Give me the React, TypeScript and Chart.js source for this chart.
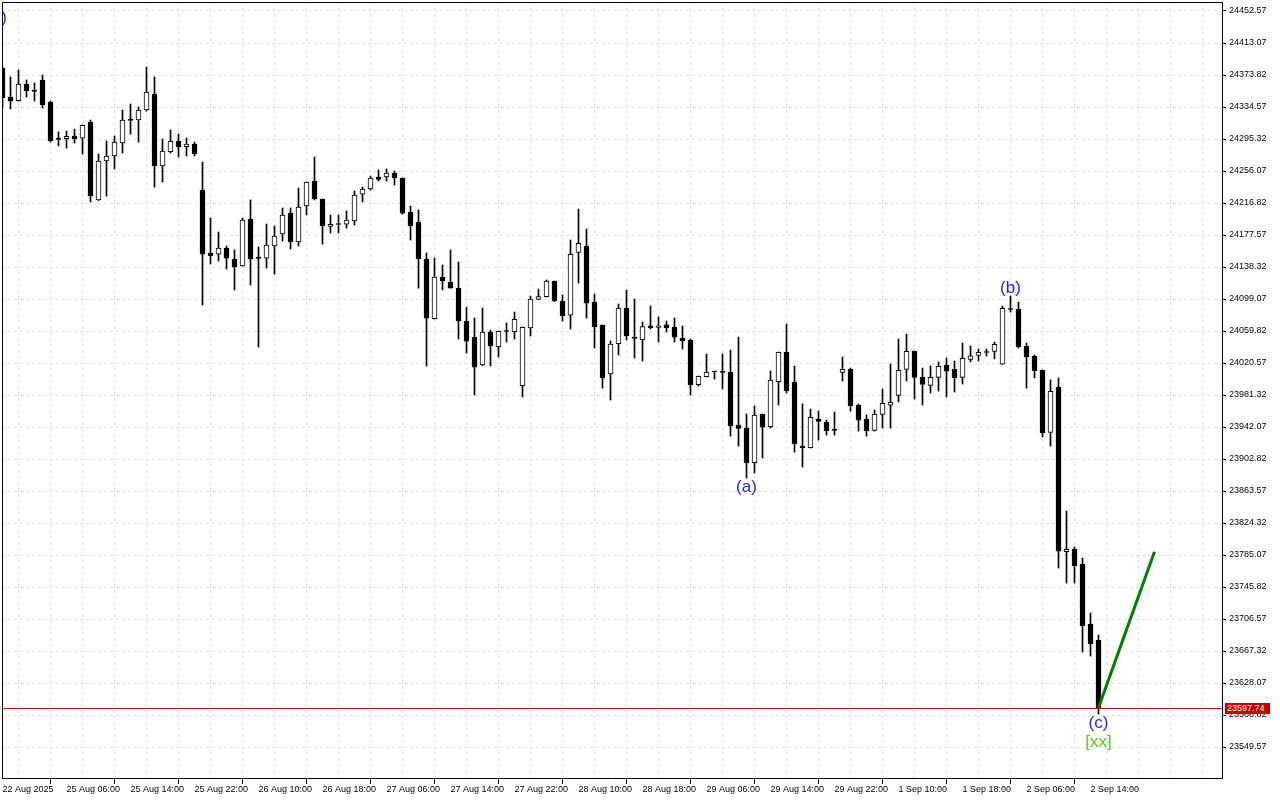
import React, { useEffect, useRef } from 'react';
import { Chart, registerables } from 'chart.js';

Chart.register(...registerables);

// ---- Data (hourly candles, index 0..137) ----
const opens = [
  24382.4, 24346.8, 24342.3, 24362.8, 24355.4, 24367.7, 24340.7, 24296.5, 24295.7, 24299.0,
  24296.2, 24316.2, 24220.5, 24268.3, 24274.5, 24290.4, 24319.8, 24318.6, 24330.9, 24350.5,
  24262.2, 24279.7, 24292.9, 24285.9, 24289.2, 24232.7, 24155.5, 24154.2, 24161.6, 24148.1,
  24139.5, 24197.2, 24150.6, 24149.3, 24164.1, 24178.8, 24204.5, 24169.0, 24213.1, 24243.8,
  24221.7, 24188.2, 24191.0, 24191.0, 24194.7, 24227.8, 24234.0, 24248.7, 24248.7, 24253.6,
  24247.5, 24205.8, 24193.5, 24148.1, 24074.9, 24126.0, 24119.9, 24112.5, 24072.1, 24052.4,
  24018.1, 24058.6, 24040.5, 24059.8, 24058.9, 23992.7, 24063.5, 24098.7, 24101.9, 24121.1,
  24096.6, 24079.1, 24156.3, 24164.1, 24095.4, 24067.2, 24007.1, 24044.2, 24088.0, 24052.4,
  24049.1, 24066.3, 24064.3, 24067.5, 24064.7, 24050.8, 24048.8, 23993.9, 24003.7, 24010.1,
  24010.7, 24009.5, 23944.5, 23940.8, 23898.3, 23958.0, 23942.4, 23997.6, 24034.0, 23997.2,
  23918.7, 23916.6, 23951.9, 23947.8, 23938.7, 24009.1, 24012.8, 23969.0, 23951.5, 23938.0,
  23957.6, 23968.7, 23980.9, 24012.8, 24034.9, 24003.0, 23993.2, 24003.0, 24017.7, 24012.8,
  24003.0, 24025.1, 24030.0, 24034.0, 24034.9, 24019.0, 24086.8, 24086.4, 24041.0, 24028.8,
  24011.6, 23935.5, 23991.1, 23789.1, 23792.0, 23774.0, 23700.0, 23680.4,
];
const highs = [
  24383.6, 24371.4, 24379.9, 24367.7, 24364.0, 24373.8, 24341.9, 24303.9, 24305.1, 24307.6,
  24312.5, 24318.6, 24276.9, 24292.9, 24299.0, 24330.9, 24338.2, 24334.6, 24383.6, 24371.4,
  24295.3, 24306.3, 24301.4, 24296.5, 24291.6, 24267.1, 24198.4, 24181.2, 24164.1, 24159.2,
  24198.4, 24220.5, 24162.8, 24191.0, 24188.6, 24210.7, 24210.7, 24235.2, 24242.6, 24273.2,
  24221.7, 24202.1, 24202.1, 24207.0, 24231.5, 24236.4, 24249.9, 24257.3, 24258.5, 24256.1,
  24247.5, 24213.1, 24208.2, 24155.5, 24149.3, 24140.8, 24159.2, 24144.4, 24089.2, 24075.7,
  24088.0, 24061.0, 24059.8, 24069.6, 24083.1, 24064.7, 24102.7, 24111.3, 24122.4, 24121.1,
  24104.0, 24171.4, 24209.4, 24184.9, 24105.2, 24067.2, 24047.5, 24092.9, 24110.1, 24099.1,
  24070.8, 24090.5, 24077.0, 24072.1, 24075.7, 24065.9, 24050.0, 24004.6, 24031.6, 24010.7,
  24031.6, 24036.5, 24052.4, 23958.0, 23967.8, 23958.0, 24010.7, 24034.0, 24068.4, 24016.9,
  23970.3, 23964.1, 23961.7, 23950.6, 23960.4, 24027.9, 24014.4, 23970.3, 23956.8, 23962.9,
  23988.6, 24019.3, 24050.0, 24056.1, 24035.3, 24014.4, 24016.9, 24021.8, 24026.7, 24023.0,
  24045.1, 24041.4, 24037.7, 24037.7, 24046.3, 24090.5, 24102.7, 24095.4, 24045.1, 24030.4,
  24012.0, 23999.7, 24002.2, 23839.0, 23794.9, 23781.4, 23713.9, 23686.9,
];
const lows = [
  24334.6, 24332.1, 24341.9, 24346.8, 24341.9, 24333.3, 24291.6, 24286.7, 24284.3, 24290.4,
  24276.9, 24218.0, 24219.9, 24225.4, 24258.5, 24278.1, 24301.4, 24291.6, 24329.6, 24236.4,
  24242.6, 24278.1, 24273.2, 24274.5, 24274.5, 24091.7, 24142.0, 24145.7, 24135.8, 24110.1,
  24139.5, 24116.2, 24040.2, 24137.1, 24129.7, 24170.2, 24160.4, 24164.1, 24202.1, 24220.5,
  24166.5, 24180.0, 24180.0, 24186.1, 24189.8, 24218.0, 24232.7, 24243.8, 24243.8, 24238.9,
  24203.3, 24171.4, 24112.5, 24016.9, 24074.5, 24110.1, 24112.5, 24050.0, 24032.8, 23981.3,
  24017.5, 24016.9, 24027.9, 24046.3, 24050.0, 23978.8, 24053.7, 24098.4, 24101.5, 24096.0,
  24072.1, 24062.3, 24118.7, 24075.7, 24038.9, 23989.9, 23975.2, 24030.4, 24048.8, 24026.7,
  24023.0, 24062.3, 24046.3, 24058.6, 24046.3, 24037.7, 23981.3, 23992.3, 24003.4, 24000.9,
  23988.6, 23931.0, 23918.7, 23879.5, 23885.6, 23904.0, 23940.8, 23969.0, 23983.8, 23911.4,
  23893.0, 23916.3, 23926.1, 23932.2, 23932.2, 23998.5, 23961.7, 23937.1, 23931.0, 23937.1,
  23940.8, 23940.8, 23972.7, 23998.5, 23976.4, 23969.0, 23983.8, 23986.2, 23978.8, 23985.0,
  23994.8, 24021.8, 24023.0, 24029.1, 24025.5, 24018.7, 24083.1, 24038.9, 23989.9, 24002.2,
  23929.8, 23918.7, 23769.1, 23750.7, 23750.7, 23666.1, 23661.2, 23590.0,
];
const closes = [
  24345.6, 24341.9, 24362.8, 24354.2, 24353.6, 24337.4, 24292.9, 24294.7, 24298.6, 24295.3,
  24312.1, 24225.4, 24268.3, 24274.5, 24291.6, 24318.6, 24318.0, 24330.9, 24353.0, 24262.2,
  24280.6, 24292.5, 24285.5, 24289.2, 24276.9, 24154.2, 24151.8, 24161.6, 24149.3, 24138.3,
  24196.0, 24148.1, 24148.7, 24165.3, 24176.3, 24202.1, 24169.0, 24211.9, 24242.6, 24221.7,
  24188.6, 24190.7, 24190.4, 24196.0, 24226.6, 24234.0, 24247.5, 24245.6, 24253.6, 24247.5,
  24204.5, 24188.6, 24148.1, 24075.7, 24126.0, 24121.1, 24112.5, 24072.1, 24047.5, 24015.6,
  24058.6, 24041.4, 24059.4, 24059.2, 24074.2, 24064.3, 24099.1, 24101.9, 24121.1, 24096.6,
  24078.2, 24153.9, 24167.4, 24094.1, 24064.7, 24002.2, 24043.9, 24087.6, 24053.7, 24050.8,
  24065.1, 24063.8, 24066.3, 24063.8, 24052.4, 24047.9, 23993.6, 24004.2, 24009.1, 24009.5,
  24009.1, 23943.3, 23940.4, 23897.9, 23956.8, 23942.0, 23999.7, 24033.7, 23986.2, 23921.2,
  23916.6, 23953.9, 23949.0, 23937.5, 23938.0, 24012.8, 23968.2, 23950.3, 23937.5, 23957.6,
  23971.1, 23972.3, 24011.6, 24034.9, 24003.0, 23994.4, 24003.0, 24016.5, 24010.4, 24002.5,
  24026.3, 24029.5, 24033.7, 24033.4, 24043.5, 24087.6, 24086.2, 24040.5, 24028.3, 24011.1,
  23935.0, 23985.8, 23789.9, 23792.0, 23771.9, 23698.3, 23676.2, 23597.74,
];

// one label every 8 candles
const xTickLabels = [
  '22 Aug 2025', '25 Aug 06:00', '25 Aug 14:00', '25 Aug 22:00', '26 Aug 10:00', '26 Aug 18:00',
  '27 Aug 06:00', '27 Aug 14:00', '27 Aug 22:00', '28 Aug 10:00', '28 Aug 18:00', '29 Aug 06:00',
  '29 Aug 14:00', '29 Aug 22:00', '1 Sep 10:00', '1 Sep 18:00', '2 Sep 06:00', '2 Sep 14:00',
];
const yTicks = [
  23549.57, 23588.82, 23628.07, 23667.32, 23706.57, 23745.82, 23785.07, 23824.32,
  23863.57, 23902.82, 23942.07, 23981.32, 24020.57, 24059.82, 24099.07, 24138.32,
  24177.57, 24216.82, 24256.07, 24295.32, 24334.57, 24373.82, 24413.07, 24452.57,
];
const lastPrice = 23597.74;
const projectionX = [137, 144];
const projectionY = [23597.74, 23789.0];
const waveLabels = [
  { text: '(b)', x: -0.75, y: 24443.7, color: '#1e1eff' },
  { text: '(a)', x: 93, y: 23868.4, color: '#1e1eff' },
  { text: '(b)', x: 126, y: 24112.5, color: '#1e1eff' },
  { text: '(c)', x: 137, y: 23579.0, color: '#1e1eff' },
  { text: '[xx]', x: 137, y: 23555.7, color: '#55cc22' },
];

const FONT = 'Liberation Sans, Arial, sans-serif';

const overlayPlugin = {
  id: 'overlay',
  beforeDatasetsDraw(chart: any) {
    const { ctx, chartArea, scales } = chart;
    const py = Math.round(scales.y.getPixelForValue(lastPrice)) + 0.5;
    ctx.save();
    ctx.strokeStyle = '#dd0000';
    ctx.lineWidth = 1;
    ctx.beginPath();
    ctx.moveTo(chartArea.left, py);
    ctx.lineTo(chartArea.right, py);
    ctx.stroke();
    ctx.restore();
  },
  afterDraw(chart: any) {
    const { ctx, chartArea, scales } = chart;
    const xs = scales.x;
    const ys = scales.y;
    ctx.save();
    // top & left frame
    ctx.strokeStyle = '#000';
    ctx.lineWidth = 1;
    ctx.beginPath();
    ctx.moveTo(chartArea.left + 0.5, chartArea.bottom);
    ctx.lineTo(chartArea.left + 0.5, chartArea.top + 0.5);
    ctx.lineTo(chartArea.right, chartArea.top + 0.5);
    ctx.stroke();

    // wave labels
    ctx.save();
    ctx.beginPath();
    ctx.rect(chartArea.left + 1, chartArea.top, chartArea.right - chartArea.left, chartArea.bottom - chartArea.top);
    ctx.clip();
    ctx.textAlign = 'center';
    ctx.textBaseline = 'middle';
    ctx.font = `17px ${FONT}`;
    for (const w of waveLabels) {
      ctx.fillStyle = w.color;
      ctx.fillText(w.text, xs.getPixelForValue(w.x), ys.getPixelForValue(w.y));
    }
    ctx.restore();

    // current price tag
    const py = Math.round(ys.getPixelForValue(lastPrice));
    ctx.fillStyle = '#cc0000';
    ctx.fillRect(chartArea.right + 3, py - 5, 45, 11);
    ctx.fillStyle = '#ffffff';
    ctx.font = `9px ${FONT}`;
    ctx.textAlign = 'left';
    ctx.textBaseline = 'middle';
    ctx.fillText(lastPrice.toFixed(2), chartArea.right + 5, py + 0.5);
    ctx.restore();
  },
};

export default function App() {
  const ref = useRef<HTMLCanvasElement | null>(null);

  useEffect(() => {
    if (!ref.current) return;
    const bodies = opens.map((o, i) => ({ x: i, y: [Math.min(o, closes[i]), Math.max(o, closes[i])] }));
    const bodyColors = opens.map((o, i) => (closes[i] > o ? '#ffffff' : '#000000'));
    const wicks = lows.map((l, i) => ({ x: i, y: [l, highs[i]] }));
    const xMin = -0.0625;
    const xMax = 152.4375;

    const chart = new Chart(ref.current, {
      type: 'bar',
      data: {
        datasets: [
          {
            type: 'line',
            data: projectionX.map((x, i) => ({ x, y: projectionY[i] })),
            borderColor: '#008000',
            borderWidth: 3,
            pointRadius: 0,
            order: 0,
          } as any,
          {
            type: 'bar',
            data: bodies,
            backgroundColor: bodyColors,
            borderColor: '#000000',
            borderWidth: 1,
            borderSkipped: false,
            barThickness: 5,
            minBarLength: 1,
            grouped: false,
            order: 2,
          } as any,
          {
            type: 'bar',
            data: wicks,
            backgroundColor: '#000000',
            borderWidth: 0,
            barThickness: 1,
            grouped: false,
            order: 3,
          } as any,
        ],
      },
      options: {
        animation: false,
        responsive: false,
        devicePixelRatio: 1,
        events: [],
        layout: { padding: { left: 2, top: 2, right: 0, bottom: 0 } },
        plugins: { legend: { display: false }, tooltip: { enabled: false } },
        scales: {
          x: {
            type: 'linear',
            position: 'bottom',
            min: xMin,
            max: xMax,
            offset: false,
            afterBuildTicks: (scale: any) => {
              const t = [];
              for (let v = 0; v <= 152; v += 4) t.push({ value: v });
              scale.ticks = t;
            },
            afterFit: (scale: any) => {
              scale.height = 22;
              scale.paddingLeft = 0;
              scale.paddingRight = 0;
            },
            grid: {
              color: '#e2e2e2',
              lineWidth: 1,
              tickLength: 6,
              tickBorderDash: [],
              tickColor: (ctx: any) => {
                const v = ctx.tick ? ctx.tick.value : -1;
                return v % 8 === 0 && v / 8 < xTickLabels.length ? '#000000' : 'rgba(0,0,0,0)';
              },
            },
            border: { display: true, color: '#000000', width: 1, dash: [3, 3] },
            ticks: {
              autoSkip: false,
              maxRotation: 0,
              minRotation: 0,
              align: 'start',
              padding: 0,
              color: '#000000',
              font: { family: FONT, size: 9 },
              callback: (value: any) => {
                const v = Number(value);
                return v % 8 === 0 && v / 8 < xTickLabels.length ? xTickLabels[v / 8] : '';
              },
            },
          },
          y: {
            type: 'linear',
            position: 'right',
            min: 23511.55,
            max: 24463.36,
            afterBuildTicks: (scale: any) => {
              scale.ticks = yTicks.map((v) => ({ value: v }));
            },
            afterFit: (scale: any) => {
              scale.width = 58;
              scale.paddingTop = 0;
              scale.paddingBottom = 0;
            },
            grid: {
              color: '#e2e2e2',
              lineWidth: 1,
              tickLength: 4,
              tickBorderDash: [],
              tickColor: '#000000',
            },
            border: { display: true, color: '#000000', width: 1, dash: [3, 3] },
            ticks: {
              autoSkip: false,
              padding: 3,
              color: '#000000',
              font: { family: FONT, size: 9 },
              callback: (value: any) => Number(value).toFixed(2),
            },
          },
        },
      } as any,
      plugins: [overlayPlugin],
    });
    return () => chart.destroy();
  }, []);

  return (
    <div style={{ position: 'fixed', left: 0, top: 0, width: 1280, height: 800, background: '#ffffff' }}>
      <canvas ref={ref} width={1280} height={800} style={{ width: 1280, height: 800, display: 'block' }} />
    </div>
  );
}
